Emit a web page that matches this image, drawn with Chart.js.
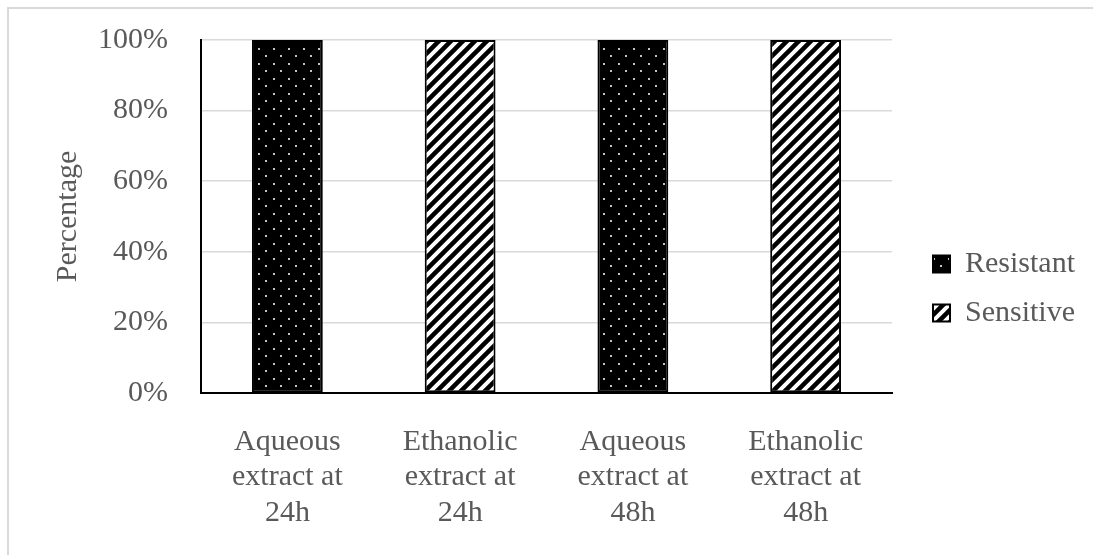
<!DOCTYPE html>
<html>
<head>
<meta charset="utf-8">
<script src="https://cdn.jsdelivr.net/npm/chart.js@4"></script>
<style>
  html, body { margin: 0; padding: 0; background: #fff; }
  #frame { position: absolute; left: 0; top: 0; width: 1093px; height: 555px; overflow: hidden; }
  #border { position: absolute; left: 7px; top: 7px; width: 1200px; height: 700px; border: 2px solid #d9d9d9; }
  #c { position: absolute; left: 0; top: 0; width: 1093px; height: 555px; }
</style>
</head>
<body>
<div id="frame">
  <div id="border"></div>
  <canvas id="c" width="1093" height="555"></canvas>
</div>
<script>
// Categories (multi-line axis labels)
const categories = [
  ["Aqueous", "extract at", "24h"],
  ["Ethanolic", "extract at", "24h"],
  ["Aqueous", "extract at", "48h"],
  ["Ethanolic", "extract at", "48h"]
];
// Share of isolates per category (%)
const resistant = [100, 0, 100, 0];
const sensitive = [0, 100, 0, 100];
const seriesNames = ["Resistant", "Sensitive"];
const yTickValues = [0, 20, 40, 60, 80, 100];

const FONT = '"Liberation Serif", "Times New Roman", serif';
const TEXT = '#595959';

// Black fill with a staggered grid of small light dots
function dotPattern() {
  const c = document.createElement('canvas');
  c.width = 15; c.height = 15;
  const g = c.getContext('2d');
  g.fillStyle = '#000';
  g.fillRect(0, 0, 15, 15);
  g.fillStyle = '#c4c4c4';
  g.fillRect(3, 3, 2, 2);
  g.fillRect(10, 10, 2, 2);
  return g.createPattern(c, 'repeat');
}

// White fill with wide black "/" diagonal stripes
function stripePattern() {
  const s = 12;
  const c = document.createElement('canvas');
  c.width = s; c.height = s;
  const g = c.getContext('2d');
  g.fillStyle = '#fff';
  g.fillRect(0, 0, s, s);
  g.strokeStyle = '#000';
  g.lineWidth = 4.5;
  g.beginPath();
  for (const k of [-s, 0, s]) {
    g.moveTo(k - 2, s + 2);
    g.lineTo(k + s + 2, -2);
  }
  g.stroke();
  return g.createPattern(c, 'repeat');
}

const ctx = document.getElementById('c').getContext('2d');

new Chart(ctx, {
  type: 'bar',
  data: {
    labels: categories,
    datasets: [
      {
        label: seriesNames[0],
        data: resistant,
        backgroundColor: dotPattern(),
        borderColor: '#000',
        borderWidth: 2,
        borderSkipped: false
      },
      {
        label: seriesNames[1],
        data: sensitive,
        backgroundColor: stripePattern(),
        borderColor: '#000',
        borderWidth: 2,
        borderSkipped: false
      }
    ]
  },
  options: {
    responsive: false,
    animation: false,
    devicePixelRatio: 1,
    layout: { padding: { top: 32, left: 0, right: 8, bottom: 10 } },
    datasets: {
      bar: { barPercentage: 0.41, categoryPercentage: 1 }
    },
    plugins: {
      tooltip: { enabled: false },
      legend: {
        position: 'right',
        align: 'center',
        labels: {
          color: TEXT,
          font: { family: FONT, size: 30 },
          boxWidth: 17,
          boxHeight: 17,
          padding: 19
        }
      }
    },
    scales: {
      x: {
        stacked: true,
        grid: { display: false, drawTicks: false },
        border: { display: true, color: '#000', width: 2 },
        ticks: {
          color: TEXT,
          font: { family: FONT, size: 30, lineHeight: 1.19 },
          padding: 31,
          maxRotation: 0,
          autoSkip: false
        },
        afterFit: s => { s.height = 152; }
      },
      y: {
        stacked: true,
        min: 0,
        max: 100,
        afterBuildTicks: s => { s.ticks = yTickValues.map(v => ({ value: v })); },
        // tick marks are invisible; their length only sets the label offset
        grid: { color: '#d9d9d9', lineWidth: 1.5, drawTicks: true, tickLength: 11, tickColor: 'rgba(0,0,0,0)' },
        border: { display: true, color: '#000', width: 2 },
        ticks: {
          color: TEXT,
          font: { family: FONT, size: 30 },
          padding: 22,
          callback: v => v + '%'
        },
        title: {
          display: true,
          text: 'Percentage',
          color: TEXT,
          font: { family: FONT, size: 30 },
          padding: { top: 50, bottom: 0 }
        },
        afterFit: s => { s.width = 201; }
      },
      // empty right-hand axis: keeps a gap between the plot and the legend
      gap: {
        position: 'right',
        display: true,
        grid: { display: false, drawTicks: false },
        border: { display: false },
        ticks: { display: false },
        afterFit: s => { s.width = 22; }
      }
    }
  }
});
</script>
</body>
</html>
